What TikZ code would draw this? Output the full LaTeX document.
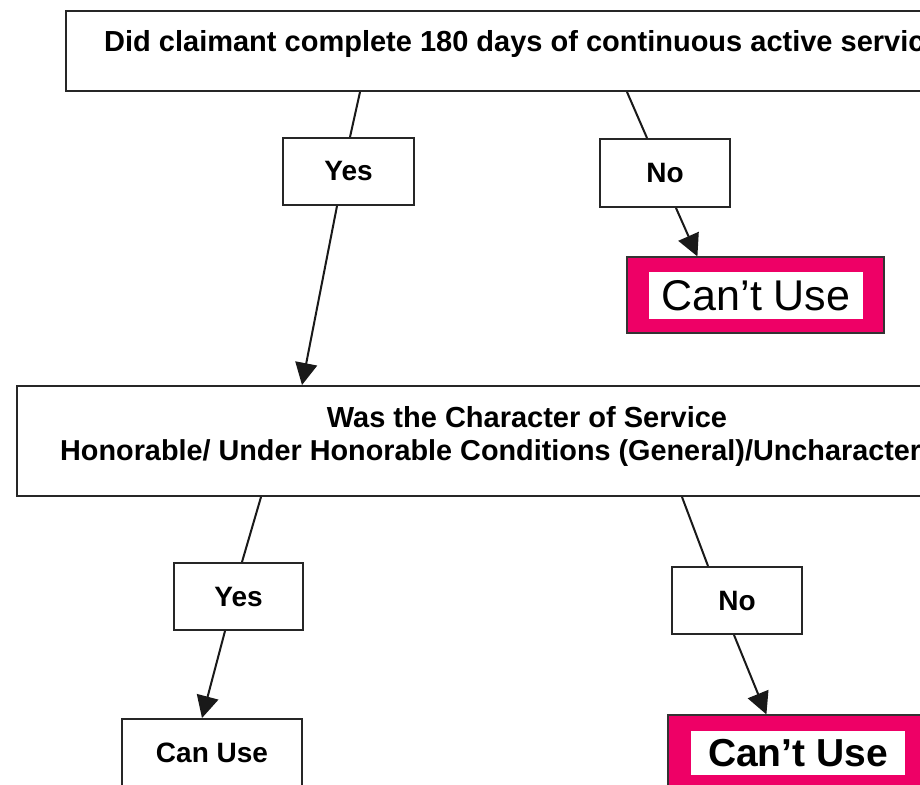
\documentclass[tikz,border=0pt]{standalone}
\usepackage{fontspec}
\setmainfont{Liberation Sans}
\usetikzlibrary{arrows.meta}
\definecolor{pinkc}{RGB}{238,0,102}
\tikzset{
  qbox/.style={draw=black!85, line width=2pt, rectangle, inner sep=0pt},
  ansbox/.style={draw=black!85, line width=2pt, rectangle, inner sep=0pt,
    minimum width=130pt, minimum height=67pt, font=\fontsize{28}{33}\selectfont\bfseries},
  qtext/.style={inner sep=0pt, font=\fontsize{29}{34}\selectfont\bfseries},
  pinkouter/.style={draw=black!80, line width=1.2pt, fill=pinkc, rectangle, inner sep=0pt},
  whiteinner/.style={fill=white, rectangle, inner sep=0pt},
  link/.style={line width=2pt, draw=black!90},
  arrowlink/.style={line width=2pt, draw=black!90, -{Triangle[width=22pt,length=22pt]}}
}
\begin{document}
\begin{tikzpicture}[x=1pt,y=-1pt]
\useasboundingbox[fill=white] (0,0) rectangle (920,784);
\clip (0,0) rectangle (920,784);
% first question
\node[qbox, minimum width=934pt, minimum height=80pt] (q1) at (533,51) {};
\node[qtext, anchor=base west] (q1t) at (104,52) {Did claimant complete 180 days of continuous active service?};
% answers to first question
\node[ansbox, minimum width=131pt] (yes1) at (348.5,171.5) {Yes};
\node[ansbox, minimum height=68pt] (no1) at (665,173) {No};
% can't use 1
\node[pinkouter, minimum width=257pt, minimum height=76pt] (cant1) at (755.5,295) {};
\node[whiteinner, minimum width=214pt, minimum height=47pt, font=\fontsize{43}{50}\selectfont] (cant1t) at (756,295.5) {Can’t Use};
% second question
\node[qbox, minimum width=1023pt, minimum height=110pt] (q2) at (528.5,441) {};
\node[qtext, anchor=base] (q2a) at (527,427) {Was the Character of Service};
\node[qtext, anchor=base west, font=\fontsize{28.8}{34}\selectfont\bfseries] (q2b) at (60,460) {Honorable/ Under Honorable Conditions (General)/Uncharacterized?};
% answers to second question
\node[ansbox, minimum width=129pt] (yes2) at (238.5,596.5) {Yes};
\node[ansbox] (no2) at (737,600.5) {No};
\node[ansbox, minimum width=180pt] (canuse) at (212,752.5) {Can Use};
% can't use 2
\node[pinkouter, minimum width=260pt, minimum height=75pt] (cant2) at (798,752.5) {};
\node[whiteinner, minimum width=214pt, minimum height=44pt, font=\fontsize{39}{45}\selectfont\bfseries] (cant2t) at (798,753) {Can’t Use};
% connectors
\draw[link] ([xshift=295pt]q1.south west) -- ([xshift=68pt]yes1.north west);
\draw[link] ([xshift=562pt]q1.south west) -- ([xshift=48pt]no1.north west);
\draw[arrowlink] ([xshift=77pt]no1.south west) -- ([xshift=71pt]cant1.north west);
\draw[arrowlink] ([xshift=55pt]yes1.south west) -- ([xshift=286pt]q2.north west);
\draw[link] ([xshift=245pt]q2.south west) -- ([xshift=69pt]yes2.north west);
\draw[link] ([xshift=666pt]q2.south west) -- ([xshift=37pt]no2.north west);
\draw[arrowlink] ([xshift=52pt]yes2.south west) -- ([xshift=81pt]canuse.north west);
\draw[arrowlink] ([xshift=63pt]no2.south west) -- ([xshift=99pt]cant2.north west);
\end{tikzpicture}
\end{document}
